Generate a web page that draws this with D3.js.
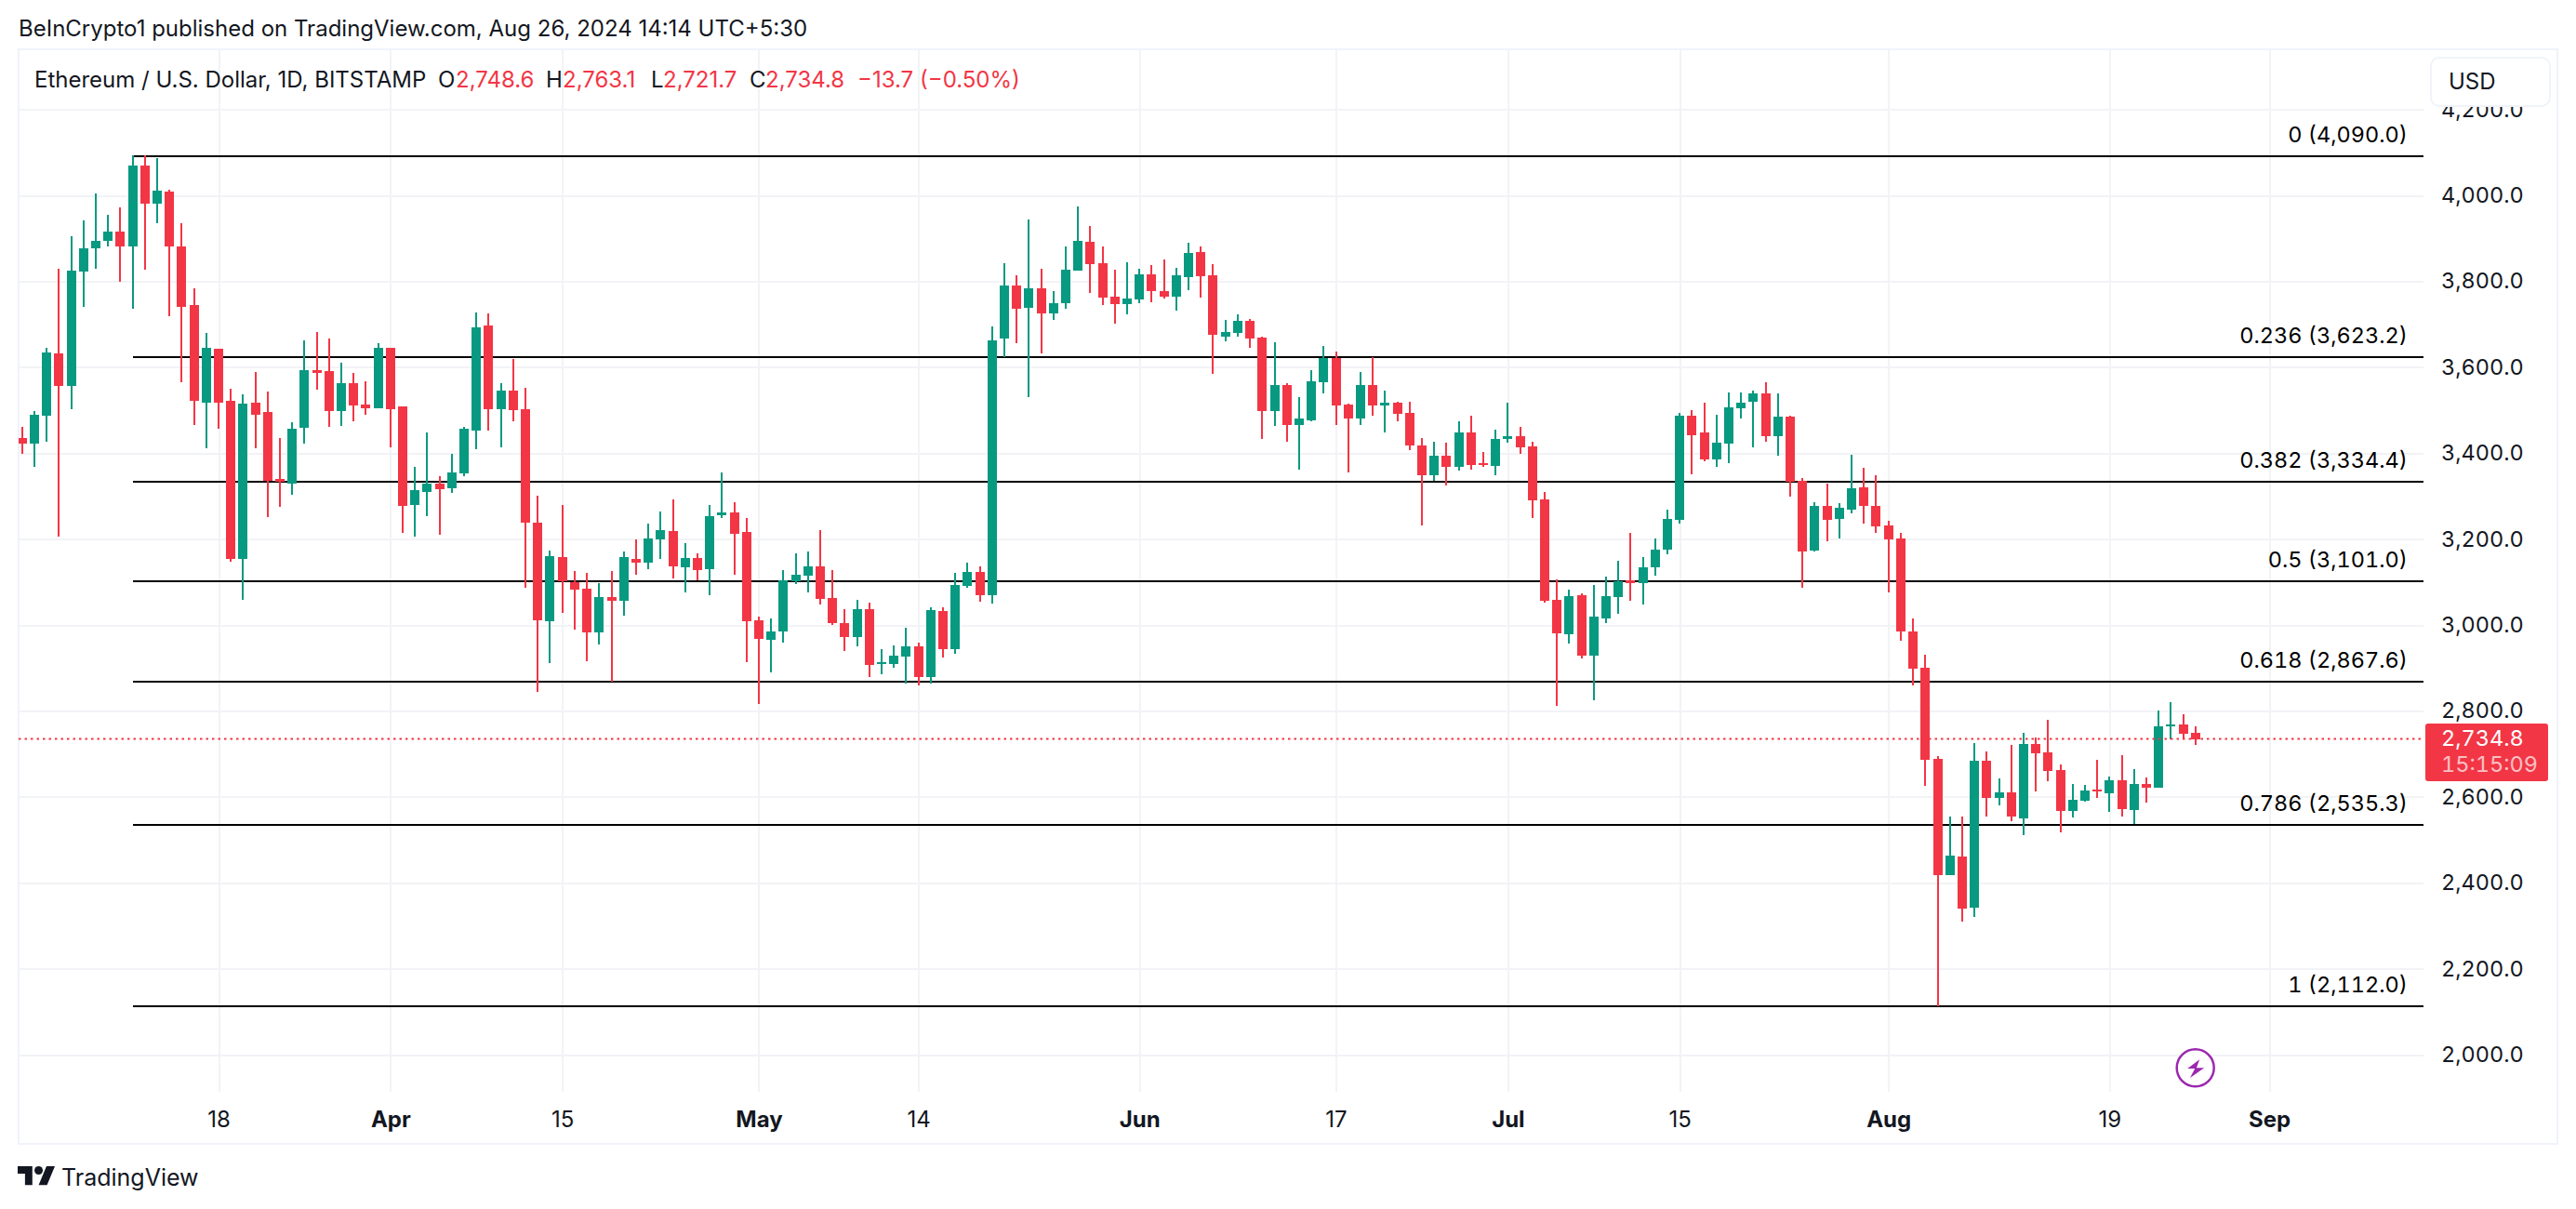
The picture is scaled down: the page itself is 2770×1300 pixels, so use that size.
<!DOCTYPE html>
<html>
<head>
<meta charset="utf-8">
<style>
  html, body { margin: 0; padding: 0; background: #fff; }
  svg { display: block; }
  text { font-family: Inter, "Noto Sans", sans-serif; font-size: 24px; fill: #131722; }
  .tabular text, text.tabular { font-variant-numeric: tabular-nums; font-feature-settings: "tnum"; }
</style>
</head>
<body>
<svg id="canvas"></svg>
<script src="https://cdn.jsdelivr.net/npm/d3@7/dist/d3.min.js"></script>
<script>
// ETH/USD daily candles, 2 Mar 2024 to 26 Aug 2024
let firstDay = new Date(Date.UTC(2024, 2, 2));

let opens = [
  3436,3423,3488,3633,3557,3822,3876,3895,3915,3880,
  4069,3980,4008,3882,3744,3518,3642,3521,3154,3518,
  3495,3339,3328,3458,3594,3590,3497,3562,3514,3505,
  3646,3508,3280,3310,3330,3319,3352,3453,3696,3503,
  3546,3503,3239,3009,3158,3100,3085,2983,3065,3057,
  3154,3145,3200,3219,3135,3156,3130,3256,3262,3217,
  3011,2966,2985,3102,3115,3137,3063,3005,2972,3037,
  2909,2909,2927,2950,2879,3033,2944,3091,3124,3070,
  3666,3791,3739,3783,3726,3748,3824,3891,3843,3763,
  3746,3757,3815,3778,3763,3809,3867,3813,3672,3679,
  3707,3668,3497,3559,3466,3477,3566,3622,3512,3481,
  3559,3510,3518,3494,3417,3349,3395,3369,3447,3377,
  3371,3432,3440,3416,3293,3059,2979,3070,2929,3016,
  3066,3103,3098,3135,3176,3245,3486,3449,3386,3423,
  3505,3520,3538,3440,3484,3336,3174,3276,3247,3269,
  3321,3278,3232,3202,2985,2900,2688,2417,2461,2342,
  2684,2597,2610,2549,2723,2703,2662,2567,2590,2617,
  2608,2638,2569,2630,2621,2763,2768,2748.6
];
let highs = [
  3462,3497,3646,3828,3904,3941,4004,3954,3971,4092,
  4094,4086,4014,3934,3783,3679,3642,3549,3536,3588,
  3544,3436,3471,3663,3681,3666,3611,3586,3568,3655,
  3646,3508,3369,3447,3347,3399,3460,3728,3726,3563,
  3618,3553,3301,3174,3280,3126,3122,3098,3126,3171,
  3200,3236,3264,3293,3191,3167,3280,3355,3286,3249,
  3020,3015,3128,3167,3171,3221,3128,3037,3059,3052,
  2944,2953,2994,2959,3041,3041,3122,3145,3137,3694,
  3841,3813,3943,3828,3778,3882,3975,3928,3882,3826,
  3845,3830,3837,3850,3832,3889,3880,3839,3709,3722,
  3713,3672,3657,3562,3531,3592,3650,3637,3516,3588,
  3624,3546,3520,3520,3434,3427,3425,3475,3486,3403,
  3455,3518,3462,3427,3310,3107,3083,3074,3094,3113,
  3150,3215,3159,3202,3269,3494,3499,3518,3490,3542,
  3542,3546,3564,3540,3488,3341,3286,3328,3284,3397,
  3366,3349,3243,3215,3015,2930,2695,2554,2554,2725,
  2705,2643,2721,2749,2738,2779,2675,2630,2627,2686,
  2647,2697,2664,2645,2801,2821,2792,2763.1
];
let lows = [
  3399,3367,3427,3206,3503,3741,3830,3882,3798,3735,
  3826,3936,3718,3564,3466,3412,3456,3148,3059,3412,
  3252,3274,3302,3421,3547,3460,3464,3473,3490,3505,
  3414,3215,3206,3254,3211,3308,3347,3410,3453,3414,
  3475,3087,2844,2911,3028,2989,2916,2955,2868,3022,
  3117,3130,3154,3109,3076,3104,3070,3249,3117,2914,
  2816,2890,2959,3096,3076,3048,3000,2940,2950,2879,
  2885,2901,2864,2859,2864,2924,2933,3087,3054,3050,
  3624,3655,3531,3631,3709,3735,3824,3772,3744,3702,
  3722,3750,3752,3759,3731,3780,3761,3585,3661,3670,
  3646,3432,3464,3427,3362,3473,3540,3466,3354,3466,
  3486,3447,3475,3406,3232,3336,3325,3360,3362,3367,
  3349,3425,3399,3250,3053,2812,2957,2923,2825,3005,
  3027,3057,3048,3115,3165,3237,3351,3380,3369,3377,
  3481,3414,3427,3393,3299,3087,3172,3195,3202,3260,
  3235,3215,3076,2963,2859,2625,2112,2417,2309,2320,
  2554,2580,2543,2511,2613,2637,2517,2552,2589,2597,
  2565,2554,2536,2586,2621,2733,2735,2721.7
];
let closes = [
  3423,3490,3635,3557,3824,3876,3893,3915,3880,4069,
  3980,4010,3880,3741,3521,3644,3518,3154,3516,3490,
  3336,3334,3456,3592,3586,3497,3562,3510,3505,3646,
  3503,3278,3313,3330,3317,3354,3456,3693,3503,3546,
  3501,3239,3011,3161,3102,3083,2983,3065,3057,3158,
  3145,3202,3221,3137,3156,3128,3254,3262,3213,3009,
  2968,2985,3104,3117,3137,3061,3005,2972,3037,2907,
  2914,2929,2950,2879,3035,2944,3093,3124,3070,3663,
  3791,3735,3783,3726,3750,3826,3893,3839,3761,3746,
  3759,3815,3778,3765,3813,3865,3811,3676,3681,3707,
  3666,3497,3559,3466,3481,3568,3622,3510,3481,3559,
  3510,3518,3492,3417,3349,3395,3367,3447,3373,3373,
  3432,3440,3414,3291,3057,2981,3068,2929,3020,3068,
  3102,3098,3135,3176,3247,3486,3442,3386,3425,3507,
  3518,3538,3440,3484,3334,3172,3276,3245,3273,3319,
  3278,3230,3200,2985,2899,2686,2417,2463,2339,2684,
  2597,2610,2554,2723,2701,2660,2567,2593,2614,2612,
  2638,2571,2630,2621,2764,2768,2747,2734.8
];

// fib retracement levels
let fibRatios = ["0", "0.236", "0.382", "0.5", "0.618", "0.786", "1"];
let fibPrices = [4090.0, 3623.2, 3334.4, 3101.0, 2867.6, 2535.3, 2112.0];
let fibStart = new Date(Date.UTC(2024, 2, 11));

let priceTicks = [2000, 2200, 2400, 2600, 2800, 3000, 3200, 3400, 3600, 3800, 4000, 4200];
let dateTicks = [
  new Date(Date.UTC(2024, 2, 18)), new Date(Date.UTC(2024, 3, 1)), new Date(Date.UTC(2024, 3, 15)),
  new Date(Date.UTC(2024, 4, 1)), new Date(Date.UTC(2024, 4, 14)), new Date(Date.UTC(2024, 5, 1)),
  new Date(Date.UTC(2024, 5, 17)), new Date(Date.UTC(2024, 6, 1)), new Date(Date.UTC(2024, 6, 15)),
  new Date(Date.UTC(2024, 7, 1)), new Date(Date.UTC(2024, 7, 19)), new Date(Date.UTC(2024, 8, 1))
];
let dateLabels = ["18", "Apr", "15", "May", "14", "Jun", "17", "Jul", "15", "Aug", "19", "Sep"];

let lastPrice = 2734.8;

let width = 2770;
let height = 1300;
let paneLeft = 20;
let paneRight = 2606;
let paneTop = 54;
let paneBottom = 1174;

let red = "#f23645";
let green = "#089981";
let gridColor = "#f2f3f6";

let canvas = d3.select("#canvas").attr("width", width).attr("height", height);
let fmt = d3.format(",.1f");

let xScale = d3.scaleUtc()
  .domain([dateTicks[0], dateTicks[dateTicks.length - 1]])
  .range([235, 2440]);
let yScale = d3.scaleLinear().domain([2000, 4000]).range([1134, 210]);

let candles = opens.map((open, i) => {
  return {
    date: d3.utcDay.offset(firstDay, i),
    open: open,
    high: highs[i],
    low: lows[i],
    close: closes[i]
  };
});

let drawFrame = () => {
  canvas.append("rect")
    .attr("x", paneLeft).attr("y", paneTop - 1)
    .attr("width", 2750 - paneLeft).attr("height", 1230 - paneTop + 1)
    .attr("fill", "none")
    .attr("stroke", "#f0f3fa")
    .attr("stroke-width", 2);

  canvas.append("clipPath").attr("id", "pane")
    .append("rect")
    .attr("x", paneLeft).attr("y", paneTop)
    .attr("width", paneRight - paneLeft).attr("height", paneBottom - paneTop);
};

let drawGrid = () => {
  let yGrid = d3.axisLeft(yScale)
    .tickValues(priceTicks)
    .tickSize(-(paneRight - paneLeft))
    .tickFormat("");
  let xGrid = d3.axisBottom(xScale)
    .tickValues(dateTicks)
    .tickSize(-(paneBottom - paneTop))
    .tickFormat("");

  let gy = canvas.append("g")
    .attr("transform", "translate(" + paneLeft + ",0)")
    .call(yGrid);
  let gx = canvas.append("g")
    .attr("transform", "translate(0," + paneBottom + ")")
    .call(xGrid);

  [gy, gx].forEach((g) => {
    g.select(".domain").remove();
    g.selectAll("line")
      .attr("stroke", gridColor)
      .attr("stroke-width", 2)
      .attr("shape-rendering", "crispEdges");
  });
};

let drawFib = () => {
  let g = canvas.append("g").attr("class", "tabular");
  g.selectAll("line")
    .data(fibPrices)
    .enter()
    .append("line")
    .attr("x1", xScale(fibStart))
    .attr("x2", paneRight)
    .attr("y1", (d) => yScale(d))
    .attr("y2", (d) => yScale(d))
    .attr("stroke", "#000")
    .attr("stroke-width", 2)
    .attr("shape-rendering", "crispEdges");

  g.selectAll("text")
    .data(fibPrices)
    .enter()
    .append("text")
    .attr("x", 2589)
    .attr("y", (d) => yScale(d) - 15)
    .attr("text-anchor", "end")
    .style("fill", "#000")
    .style("font-size", "23.5px")
    .text((d, i) => fibRatios[i] + " (" + fmt(d) + ")");
};

let drawCandles = () => {
  let g = canvas.append("g")
    .attr("clip-path", "url(#pane)")
    .attr("shape-rendering", "crispEdges");
  let color = (d) => (d.close < d.open ? red : green);

  g.selectAll(".wick")
    .data(candles)
    .enter()
    .append("rect")
    .attr("class", "wick")
    .attr("x", (d) => Math.round(xScale(d.date)) - 1)
    .attr("width", 2)
    .attr("y", (d) => yScale(d.high))
    .attr("height", (d) => yScale(d.low) - yScale(d.high))
    .attr("fill", color);

  g.selectAll(".body")
    .data(candles)
    .enter()
    .append("rect")
    .attr("class", "body")
    .attr("x", (d) => Math.round(xScale(d.date)) - 5)
    .attr("width", 10)
    .attr("y", (d) => yScale(Math.max(d.open, d.close)))
    .attr("height", (d) => Math.max(2, Math.abs(yScale(d.open) - yScale(d.close))))
    .attr("fill", color);
};

let drawAxes = () => {
  let yAxis = d3.axisRight(yScale)
    .tickValues(priceTicks)
    .tickSize(0)
    .tickPadding(19)
    .tickFormat(fmt);
  let xAxis = d3.axisBottom(xScale)
    .tickValues(dateTicks)
    .tickSize(0)
    .tickPadding(21)
    .tickFormat((d, i) => dateLabels[i]);

  let gy = canvas.append("g")
    .attr("class", "tabular")
    .attr("transform", "translate(" + paneRight + ",0)")
    .call(yAxis);
  let gx = canvas.append("g")
    .attr("transform", "translate(0," + paneBottom + ")")
    .call(xAxis);

  gy.select(".domain").remove();
  gx.select(".domain").remove();
  gy.selectAll("text").style("font-size", "23.5px");
  gx.selectAll("text")
    .style("font-weight", (d, i) => (isNaN(dateLabels[i]) ? 700 : 400));
  canvas.selectAll("g").attr("font-family", null).attr("font-size", null);
};

let drawPriceLine = () => {
  let py = yScale(lastPrice);
  canvas.append("line")
    .attr("x1", paneLeft).attr("x2", paneRight)
    .attr("y1", py).attr("y2", py)
    .attr("stroke", red)
    .attr("stroke-width", 2)
    .attr("stroke-dasharray", "2.5 4");

  canvas.append("rect")
    .attr("x", 2608).attr("y", 778)
    .attr("width", 132).attr("height", 62)
    .attr("rx", 3)
    .attr("fill", red);
  canvas.append("text")
    .attr("class", "tabular")
    .attr("x", 2625).attr("y", 802)
    .style("fill", "#fff")
    .style("font-size", "23.5px")
    .text(fmt(lastPrice));
  canvas.append("text")
    .attr("class", "tabular")
    .attr("x", 2625).attr("y", 830)
    .style("fill", "#fff")
    .style("fill-opacity", 0.7)
    .style("font-size", "23.5px")
    .text("15:15:09");
};

let drawHeader = () => {
  canvas.append("text")
    .attr("x", 20).attr("y", 39)
    .text("BeInCrypto1 published on TradingView.com, Aug 26, 2024 14:14 UTC+5:30");

  let legend = [
    ["Ethereum / U.S. Dollar, 1D, BITSTAMP", 37, "#131722"],
    ["O", 471, "#131722"], ["2,748.6", 490, red],
    ["H", 587, "#131722"], ["2,763.1", 605, red],
    ["L", 700, "#131722"], ["2,721.7", 713, red],
    ["C", 806, "#131722"], ["2,734.8", 823, red],
    ["\u221213.7", 922, red], ["(\u22120.50%)", 989, red]
  ];
  canvas.append("g").selectAll("text")
    .data(legend)
    .enter()
    .append("text")
    .attr("x", (d) => d[1])
    .attr("y", 94)
    .style("fill", (d) => d[2])
    .text((d) => d[0]);

  canvas.append("rect")
    .attr("x", 2614).attr("y", 62)
    .attr("width", 128).attr("height", 52)
    .attr("rx", 9)
    .attr("fill", "#fff")
    .attr("stroke", "#f0f3fa")
    .attr("stroke-width", 2);
  canvas.append("text")
    .attr("x", 2633).attr("y", 96)
    .text("USD");
};

let drawFooter = () => {
  let logo = canvas.append("g")
    .attr("transform", "translate(19,1249.5) scale(1.127)")
    .attr("fill", "#131722");
  logo.append("path").attr("d", "M14 22H7V11H0V4h14v18zM28 22h-8l7.5-18h8L28 22z");
  logo.append("circle").attr("cx", 20).attr("cy", 8).attr("r", 4);

  canvas.append("text")
    .attr("x", 66).attr("y", 1275)
    .style("font-size", "25px")
    .text("TradingView");
};

let drawBolt = () => {
  let bolt = canvas.append("g").attr("transform", "translate(2360.7,1148.3)");
  bolt.append("circle")
    .attr("r", 20)
    .attr("fill", "#fff")
    .attr("stroke", "#9c27b0")
    .attr("stroke-width", 2.5);
  bolt.append("path")
    .attr("d", "M4.5 -9L-8.5 0.8H-0.5L-5.7 10.7L9.5 0H1.2Z")
    .attr("fill", "#9c27b0");
};

drawFrame();
drawGrid();
drawFib();
drawCandles();
drawPriceLine();
drawAxes();
drawHeader();
drawFooter();
drawBolt();
</script>
</body>
</html>
